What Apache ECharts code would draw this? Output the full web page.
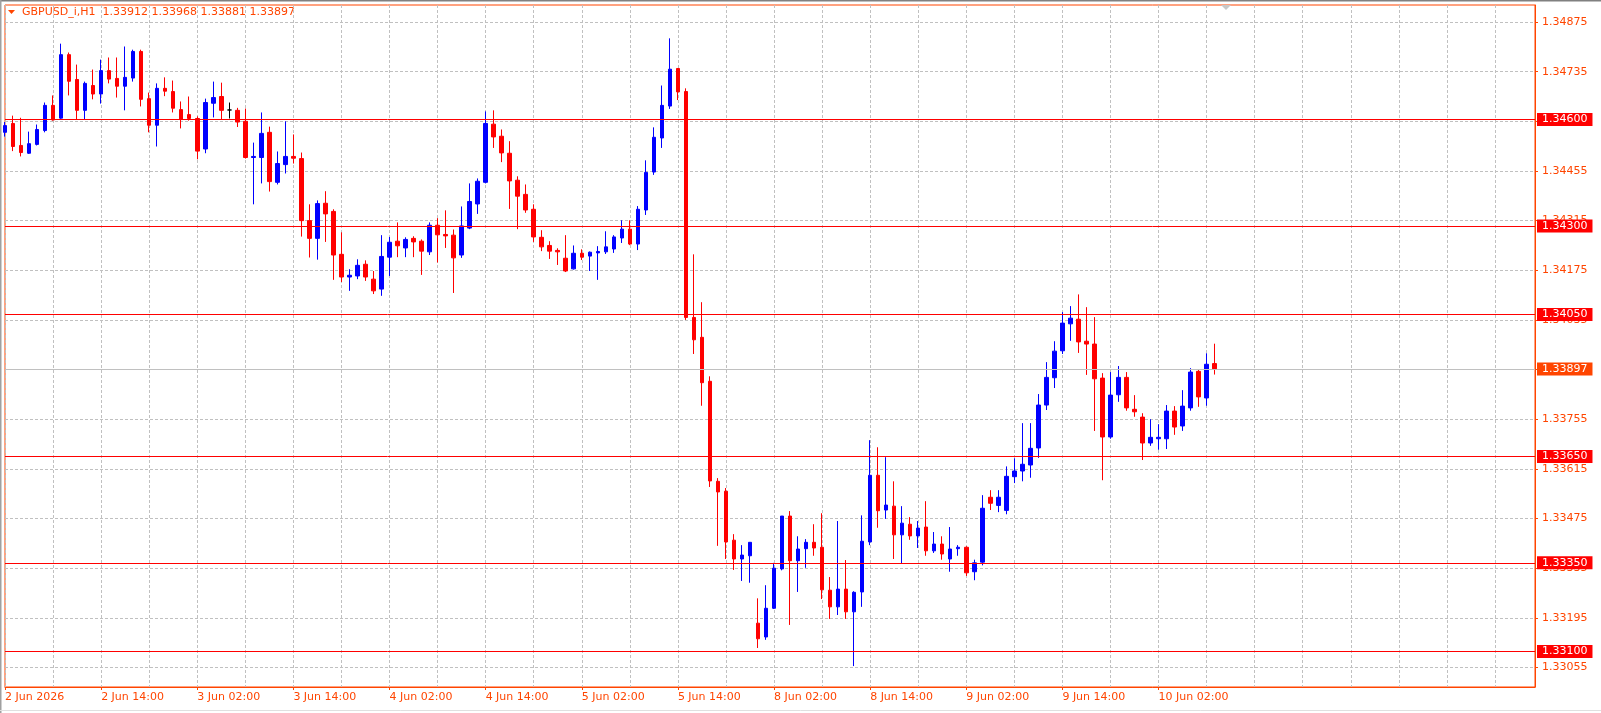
<!DOCTYPE html>
<html>
<head>
<meta charset="utf-8">
<script src="https://cdn.jsdelivr.net/npm/echarts@6/dist/echarts.min.js"></script>
<style>
  html, body { margin: 0; padding: 0; background: #fff; }
  #chart { width: 1601px; height: 713px; }
</style>
</head>
<body>
<div id="chart"></div>
<script>
  const symbolName = 'GBPUSD_i,H1'
  const slotCount = 192 // visible hourly slots, right part empty (chart shift)

  // x labels, one every 12 bars
  const tickLabels = ['2 Jun 2026', '2 Jun 14:00', '3 Jun 02:00', '3 Jun 14:00', '4 Jun 02:00',
    '4 Jun 14:00', '5 Jun 02:00', '5 Jun 14:00', '8 Jun 02:00', '8 Jun 14:00',
    '9 Jun 02:00', '9 Jun 14:00', '10 Jun 02:00']

  // price scale labels
  const priceTicks = [1.33055, 1.33195, 1.33335, 1.33475, 1.33615, 1.33755, 1.33895,
    1.34035, 1.34175, 1.34315, 1.34455, 1.34595, 1.34735, 1.34875]

  // horizontal levels drawn on the chart
  const levels = [1.34600, 1.34300, 1.34050, 1.33650, 1.33350, 1.33100]

  const opens = [
    1.34564, 1.34589, 1.34527, 1.34505, 1.34530, 1.34569, 1.34640, 1.34604, 1.34783, 1.34713, 1.34626, 1.34696,
    1.34672, 1.34738, 1.34716, 1.34694, 1.34717, 1.34792, 1.34659, 1.34584, 1.34688, 1.34679, 1.34628, 1.34614,
    1.34603, 1.34517, 1.34646, 1.34665, 1.34627, 1.34626, 1.34595, 1.34493, 1.34493, 1.34564, 1.34423, 1.34473,
    1.34496, 1.34490, 1.34315, 1.34265, 1.34364, 1.34341, 1.34220, 1.34156, 1.34159, 1.34192, 1.34150, 1.34122,
    1.34212, 1.34257, 1.34238, 1.34265, 1.34257, 1.34227, 1.34302, 1.34276, 1.34274, 1.34218, 1.34294, 1.34362,
    1.34423, 1.34587, 1.34553, 1.34505, 1.34429, 1.34389, 1.34347, 1.34268, 1.34245, 1.34231, 1.34209, 1.34179,
    1.34223, 1.34215, 1.34224, 1.34227, 1.34235, 1.34266, 1.34291, 1.34249, 1.34345, 1.34452, 1.34548, 1.34638,
    1.34744, 1.34679, 1.34042, 1.33986, 1.33862, 1.33580, 1.33552, 1.33414, 1.33361, 1.33370, 1.33180, 1.33141,
    1.33222, 1.33333, 1.33482, 1.33356, 1.33390, 1.33408, 1.33394, 1.33273, 1.33226, 1.33276, 1.33212, 1.33268,
    1.33409, 1.33597, 1.33499, 1.33510, 1.33429, 1.33459, 1.33426, 1.33451, 1.33384, 1.33403, 1.33361, 1.33390,
    1.33394, 1.33325, 1.33352, 1.33535, 1.33512, 1.33498, 1.33593, 1.33609, 1.33626, 1.33674, 1.33795, 1.33872,
    1.33948, 1.34024, 1.34037, 1.33975, 1.33967, 1.33871, 1.33705, 1.33824, 1.33873, 1.33783, 1.33761, 1.33688,
    1.33700, 1.33700, 1.33778, 1.33736, 1.33787, 1.33890, 1.33815, 1.33912
  ]
  const highs = [
    1.34593, 1.34611, 1.34605, 1.34566, 1.34586, 1.34648, 1.34668, 1.34814, 1.34789, 1.34755, 1.34707, 1.34741,
    1.34769, 1.34775, 1.34775, 1.34806, 1.34797, 1.34797, 1.34676, 1.34702, 1.34719, 1.34710, 1.34651, 1.34665,
    1.34609, 1.34659, 1.34707, 1.34704, 1.34648, 1.34633, 1.34631, 1.34535, 1.34620, 1.34580, 1.34510, 1.34595,
    1.34558, 1.34507, 1.34361, 1.34372, 1.34398, 1.34347, 1.34282, 1.34178, 1.34206, 1.34203, 1.34173, 1.34274,
    1.34269, 1.34310, 1.34268, 1.34271, 1.34262, 1.34310, 1.34322, 1.34344, 1.34290, 1.34355, 1.34420, 1.34434,
    1.34623, 1.34626, 1.34572, 1.34539, 1.34440, 1.34417, 1.34361, 1.34288, 1.34257, 1.34237, 1.34274, 1.34245,
    1.34234, 1.34228, 1.34243, 1.34285, 1.34274, 1.34316, 1.34316, 1.34356, 1.34485, 1.34578, 1.34696, 1.34829,
    1.34745, 1.34688, 1.34220, 1.34085, 1.33876, 1.33589, 1.33561, 1.33431, 1.33400, 1.33408, 1.33250, 1.33287,
    1.33350, 1.33482, 1.33496, 1.33425, 1.33417, 1.33459, 1.33490, 1.33310, 1.33468, 1.33358, 1.33270, 1.33484,
    1.33696, 1.33676, 1.33648, 1.33580, 1.33510, 1.33479, 1.33468, 1.33524, 1.33437, 1.33425, 1.33451, 1.33400,
    1.33397, 1.33359, 1.33541, 1.33555, 1.33555, 1.33622, 1.33645, 1.33744, 1.33744, 1.33826, 1.33916, 1.33975,
    1.34057, 1.34074, 1.34107, 1.34071, 1.34043, 1.33885, 1.33888, 1.33905, 1.33888, 1.33823, 1.33772, 1.33755,
    1.33741, 1.33795, 1.33792, 1.33837, 1.33899, 1.33896, 1.33941, 1.33968
  ]
  const lows = [
    1.34552, 1.34511, 1.34496, 1.34503, 1.34527, 1.34564, 1.34597, 1.34602, 1.34668, 1.34599, 1.34599, 1.34657,
    1.34645, 1.34702, 1.34662, 1.34626, 1.34707, 1.34637, 1.34564, 1.34524, 1.34666, 1.34620, 1.34575, 1.34597,
    1.34488, 1.34505, 1.34606, 1.34599, 1.34603, 1.34579, 1.34490, 1.34361, 1.34420, 1.34397, 1.34417, 1.34448,
    1.34476, 1.34270, 1.34211, 1.34205, 1.34255, 1.34148, 1.34142, 1.34117, 1.34150, 1.34145, 1.34108, 1.34103,
    1.34159, 1.34212, 1.34212, 1.34212, 1.34162, 1.34218, 1.34197, 1.34238, 1.34111, 1.34210, 1.34291, 1.34334,
    1.34420, 1.34520, 1.34480, 1.34348, 1.34291, 1.34337, 1.34255, 1.34229, 1.34207, 1.34190, 1.34170, 1.34177,
    1.34204, 1.34173, 1.34148, 1.34221, 1.34224, 1.34252, 1.34246, 1.34232, 1.34331, 1.34444, 1.34520, 1.34630,
    1.34655, 1.34035, 1.33939, 1.33793, 1.33564, 1.33398, 1.33361, 1.33330, 1.33299, 1.33294, 1.33110, 1.33133,
    1.33220, 1.33329, 1.33175, 1.33268, 1.33336, 1.33370, 1.33248, 1.33192, 1.33203, 1.33192, 1.33059, 1.33226,
    1.33400, 1.33449, 1.33474, 1.33361, 1.33347, 1.33415, 1.33392, 1.33370, 1.33378, 1.33359, 1.33325, 1.33370,
    1.33313, 1.33301, 1.33343, 1.33499, 1.33493, 1.33487, 1.33575, 1.33580, 1.33590, 1.33646, 1.33781, 1.33843,
    1.33939, 1.33976, 1.33942, 1.33880, 1.33722, 1.33583, 1.33700, 1.33804, 1.33779, 1.33762, 1.33640, 1.33680,
    1.33669, 1.33671, 1.33711, 1.33722, 1.33779, 1.33790, 1.33793, 1.33881
  ]
  const closes = [
    1.34583, 1.34524, 1.34507, 1.34532, 1.34572, 1.34640, 1.34599, 1.34783, 1.34708, 1.34626, 1.34702, 1.34672,
    1.34738, 1.34714, 1.34694, 1.34719, 1.34792, 1.34657, 1.34584, 1.34688, 1.34680, 1.34632, 1.34600, 1.34603,
    1.34511, 1.34648, 1.34662, 1.34626, 1.34627, 1.34593, 1.34493, 1.34496, 1.34561, 1.34425, 1.34476, 1.34496,
    1.34491, 1.34315, 1.34265, 1.34363, 1.34334, 1.34218, 1.34156, 1.34161, 1.34189, 1.34156, 1.34117, 1.34214,
    1.34254, 1.34244, 1.34262, 1.34255, 1.34229, 1.34302, 1.34275, 1.34272, 1.34210, 1.34300, 1.34369, 1.34426,
    1.34589, 1.34551, 1.34506, 1.34427, 1.34384, 1.34345, 1.34269, 1.34241, 1.34229, 1.34227, 1.34173, 1.34223,
    1.34212, 1.34226, 1.34228, 1.34241, 1.34269, 1.34291, 1.34249, 1.34347, 1.34451, 1.34550, 1.34640, 1.34742,
    1.34678, 1.34042, 1.33979, 1.33858, 1.33581, 1.33550, 1.33409, 1.33361, 1.33372, 1.33408, 1.33136, 1.33222,
    1.33335, 1.33482, 1.33356, 1.33389, 1.33408, 1.33392, 1.33274, 1.33226, 1.33276, 1.33212, 1.33267, 1.33411,
    1.33597, 1.33497, 1.33513, 1.33429, 1.33462, 1.33426, 1.33448, 1.33384, 1.33403, 1.33375, 1.33389, 1.33394,
    1.33322, 1.33350, 1.33504, 1.33518, 1.33535, 1.33594, 1.33609, 1.33628, 1.33673, 1.33795, 1.33873, 1.33947,
    1.34026, 1.34040, 1.33973, 1.33967, 1.33869, 1.33705, 1.33823, 1.33873, 1.33787, 1.33776, 1.33688, 1.33704,
    1.33704, 1.33778, 1.33733, 1.33792, 1.33888, 1.33818, 1.33910, 1.33897
  ]

  const fg = '#ff4500'
  const font = 'DejaVu Sans'
  const last = opens.length - 1

  let categories = []
  for (let i = 0; i < slotCount; i++) categories.push(String(i))
  let candles = opens.map((o, i) => [o, closes[i], lows[i], highs[i]])

  // one helper line series per horizontal line, so each has its own style
  function hLine(value, lineColor, boxColor, z) {
    return {
      type: 'line',
      data: [],
      silent: true,
      z: z,
      markLine: {
        silent: true,
        precision: 5,
        symbol: ['none', 'none'],
        animation: false,
        lineStyle: { color: lineColor, width: 1, type: 'solid' },
        label: {
          show: true,
          position: 'end',
          distance: 2,
          formatter: () => value.toFixed(5),
          color: '#ffffff',
          backgroundColor: boxColor,
          fontFamily: font,
          fontSize: 11,
          lineHeight: 12,
          padding: [1, 5, 0, 5]
        },
        data: [{ yAxis: value }]
      }
    }
  }

  let dom = echarts.init(document.getElementById('chart'))
  let option = {
    animation: false,
    backgroundColor: '#ffffff',
    grid: {
      left: 5,
      top: 5,
      width: 1530,
      height: 682,
      show: true,
      borderColor: fg,
      borderWidth: 1
    },
    xAxis: {
      type: 'category',
      data: categories,
      boundaryGap: false,
      axisLine: { show: true, lineStyle: { color: fg } },
      axisTick: {
        show: true,
        length: 3,
        interval: (i) => i % 12 === 0 && i / 12 < tickLabels.length,
        lineStyle: { color: fg }
      },
      axisLabel: {
        interval: (i) => i % 12 === 0 && i / 12 < tickLabels.length,
        formatter: (v, i) => tickLabels[i / 12] || '',
        align: 'left',
        margin: 5,
        color: fg,
        fontFamily: font,
        fontSize: 11
      },
      splitLine: {
        show: true,
        interval: (i) => i % 6 === 0,
        lineStyle: { color: '#c0c0c0', type: [3, 2], width: 1 }
      }
    },
    yAxis: {
      type: 'value',
      position: 'right',
      min: 1.33000,
      max: 1.34923,
      scale: true,
      axisLine: { show: true, lineStyle: { color: fg } },
      axisTick: {
        show: true,
        length: 3,
        customValues: priceTicks,
        lineStyle: { color: fg }
      },
      axisLabel: {
        customValues: priceTicks,
        formatter: v => v.toFixed(5),
        margin: 7,
        color: fg,
        fontFamily: font,
        fontSize: 11
      },
      splitLine: {
        show: true,
        lineStyle: { color: '#c0c0c0', type: [3, 2], width: 1 }
      }
    },
    series: [
      hLine(closes[last], '#c0c0c0', fg, 3),
      {
        type: 'candlestick',
        data: candles,
        barWidth: 4,
        silent: true,
        z: 4,
        itemStyle: {
          color: '#0000ff',
          color0: '#ff0000',
          borderColor: '#0000ff',
          borderColor0: '#ff0000',
          borderColorDoji: '#000000',
          borderWidth: 1
        }
      }
    ].concat(levels.map(v => hLine(v, '#ff0000', '#ff0000', 5))),
    graphic: [
      { type: 'polygon', shape: { points: [[8, 10], [15, 10], [11.5, 14]] }, style: { fill: fg } },
      {
        type: 'text', left: 22, top: 7,
        style: {
          text: symbolName + '  ' + [opens[last], highs[last], lows[last], closes[last]].map(v => v.toFixed(5)).join(' '),
          fill: fg, font: '11px "DejaVu Sans"'
        }
      },
      { type: 'polygon', shape: { points: [[1221, 5], [1231, 5], [1226, 10]] }, style: { fill: '#c8c8c8' } },
      { type: 'line', shape: { x1: 0, y1: 0.5, x2: 1601, y2: 0.5 }, style: { stroke: '#808080', lineWidth: 2 } },
      { type: 'line', shape: { x1: 0.5, y1: 0, x2: 0.5, y2: 713 }, style: { stroke: '#a0a0a0', lineWidth: 2 } },
      { type: 'line', shape: { x1: 0, y1: 710.5, x2: 1601, y2: 710.5 }, style: { stroke: '#e0e0e0', lineWidth: 1 } }
    ]
  }
  dom.setOption(option)
  window.addEventListener('resize', () => dom.resize())
</script>
</body>
</html>
